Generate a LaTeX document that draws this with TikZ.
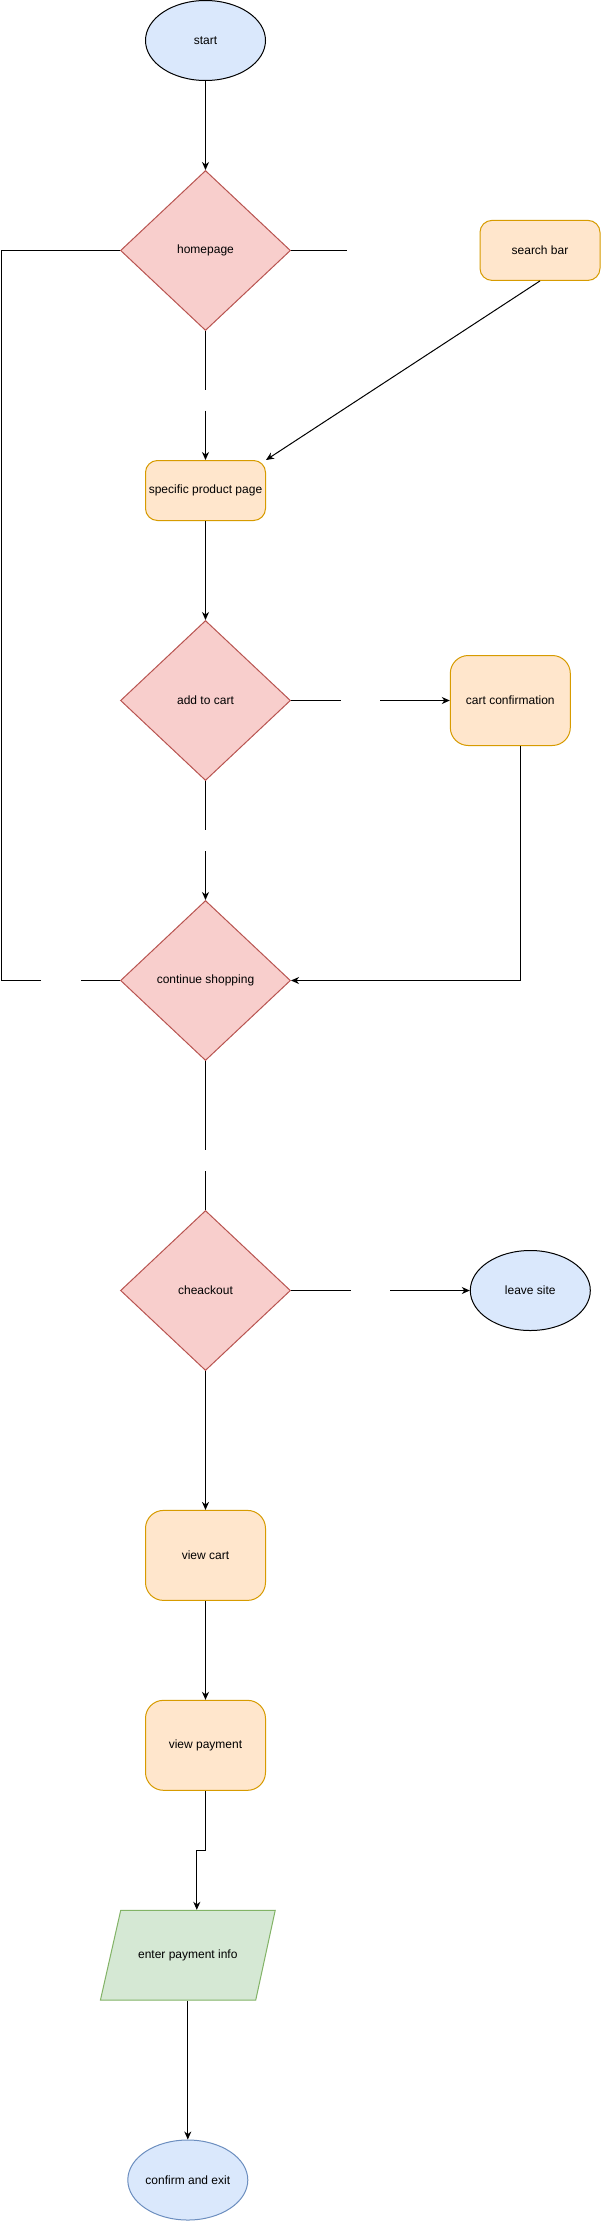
\documentclass[tikz,border=0pt]{standalone}
\usepackage{fontspec}
\setmainfont{Liberation Sans}
\usetikzlibrary{shapes.geometric,arrows.meta}
\definecolor{blueF}{HTML}{DAE8FC}
\definecolor{blueS}{HTML}{6C8EBF}
\definecolor{redF}{HTML}{F8CECC}
\definecolor{redS}{HTML}{B85450}
\definecolor{orF}{HTML}{FFE6CC}
\definecolor{orS}{HTML}{D79B00}
\definecolor{grF}{HTML}{D5E8D4}
\definecolor{grS}{HTML}{82B366}
\begin{document}
\begin{tikzpicture}[x=1pt,y=-1pt,
  every node/.style={font=\fontsize{12}{14}\selectfont, inner sep=0pt, line width=1pt},
  term/.style={ellipse, draw=black, fill=blueF, minimum width=120pt, minimum height=80pt},
  dec/.style={diamond, draw=redS, fill=redF, minimum width=170pt, minimum height=160pt},
  proc/.style={rectangle, rounded corners=12pt, draw=orS, fill=orF, minimum width=120pt, minimum height=60pt},
  procL/.style={proc, rounded corners=18pt, minimum height=90pt},
  parabox/.style={rectangle, minimum width=174.8pt, minimum height=90pt},
  parafill/.style={draw=grS, fill=grF, line width=1pt},
  link/.style={line width=1pt, draw=black},
  arr/.style={link, -{Stealth[length=8pt,width=7pt,inset=2.5pt]}},
]
\useasboundingbox (0,0) rectangle (601,2221);
\fill[white] (0,0) rectangle (601,2221);

\node[term] (start) at (205.5,40.5) {start};
\node[dec] (home) at (205.5,250.5) {homepage};
\node[proc] (search) at (540,250.4) {search bar};
\node[proc] (spp) at (205.5,490.5) {specific product page};
\node[dec] (add) at (205.5,700.5) {add to cart};
\node[procL] (cc) at (510.3,700.5) {cart confirmation};
\node[dec] (cs) at (205.5,980.5) {continue shopping};
\node[dec] (co) at (205.5,1290.5) {cheackout};
\node[term] (leave) at (530.3,1290.5) {leave site};
\node[procL] (vc) at (205.5,1555.4) {view cart};
\node[procL] (vp) at (205.5,1745.3) {view payment};
\coordinate (pTL) at (120.7,1910.4);
\coordinate (pTR) at (275.2,1910.4);
\coordinate (pBR) at (255.7,2000.2);
\coordinate (pBL) at (100.4,2000.2);
\path[parafill] (pTL) -- (pTR) -- (pBR) -- (pBL) -- cycle;
\node[parabox] (pay) at (187.8,1955.3) {enter payment info};
\node[term, draw=blueS] (end) at (187.8,2180) {confirm and exit};

\coordinate (hR) at (347,250.5);
\coordinate (g1a) at (205.5,390.4);
\coordinate (g1b) at (205.5,410.7);
\coordinate (g2a) at (340.7,700.5);
\coordinate (g2b) at (380,700.5);
\coordinate (g3a) at (205.5,830.4);
\coordinate (g3b) at (205.5,851);
\coordinate (g4a) at (80.5,980.5);
\coordinate (g4b) at (41,980.5);
\coordinate (lc) at (1,980.5);
\coordinate (g5a) at (205.5,1150.4);
\coordinate (g5b) at (205.5,1171);
\coordinate (g6a) at (350.7,1290.5);
\coordinate (g6b) at (390,1290.5);

\draw[arr] (start) -- (home);
\draw[link] (home.east) -- (hR);
\draw[arr] (search.south) -- (spp.north east);
\draw[link] (home.south) -- (g1a);
\draw[arr] (g1b) -- (spp.north);
\draw[arr] (spp) -- (add);
\draw[link] (add.east) -- (g2a);
\draw[arr] (g2b) -- (cc.west);
\draw[link] (add.south) -- (g3a);
\draw[arr] (g3b) -- (cs.north);
\draw[arr] ([xshift=10.2pt]cc.south) |- (cs.east);
\draw[link] (cs.west) -- (g4a);
\draw[link] (g4b) -- (lc) |- (home.west);
\draw[link] (cs.south) -- (g5a);
\draw[link] (g5b) -- (co.north);
\draw[link] (co.east) -- (g6a);
\draw[arr] (g6b) -- (leave.west);
\draw[arr] (co.south) -- (vc.north);
\draw[arr] (vc) -- (vp);
\draw[arr] (vp.south) -- ++(0,59.7) -| ([xshift=9pt]pay.north);
\draw[arr] (pay.south) -- (end.north);
\end{tikzpicture}
\end{document}
